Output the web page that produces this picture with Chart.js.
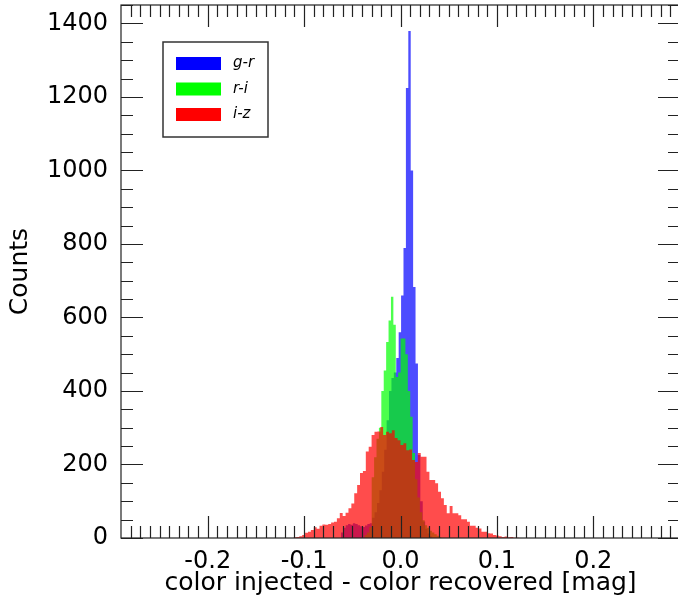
<!DOCTYPE html>
<html>
<head>
<meta charset="utf-8">
<script src="https://cdn.jsdelivr.net/npm/chart.js@4.4.0/dist/chart.umd.min.js"></script>
<style>
  html, body { margin: 0; padding: 0; background: #fff; overflow: hidden; }
</style>
</head>
<body>
<canvas id="hist" width="681" height="603"></canvas>
<script>
// histogram bins: left edge of first bin, bin width, counts per bin
const seriesNames = ['g-r', 'r-i', 'i-z'];
const seriesColors = ['#0000ff', '#00ff00', '#ff0000'];

const grStart = -0.0619;
const grWidth = 0.0025;
const grCounts = [15, 28, 35, 38, 36, 40, 38, 35, 32, 30, 34, 38, 40, 55, 70, 95, 130, 180, 240, 320,
  400, 435, 450, 490, 560, 660, 789, 1224, 1379, 1000, 683, 475, 226, 100, 45, 25, 12, 5];

const riStart = -0.0374;
const riWidth = 0.0025;
const riCounts = [8, 15, 30, 165, 220, 270, 300, 400, 456, 533, 592, 656, 580, 438, 450, 543, 543, 500,
  400, 330, 231, 160, 110, 70, 48, 35, 28, 20, 15, 10, 6, 3];

const izStart = -0.111;
const izWidth = 0.003;
const izCounts = [2, 3, 5, 8, 14, 17, 22, 29, 25, 33, 37, 36, 38, 42, 44, 54, 68, 60, 69, 81,
  94, 122, 144, 177, 182, 235, 248, 280, 289, 290, 302, 280, 289, 285, 293, 272, 266, 253, 258, 239,
  241, 212, 207, 231, 221, 221, 180, 158, 158, 149, 126, 108, 90, 67, 87, 67, 67, 62, 51, 51,
  44, 33, 33, 28, 26, 17, 17, 13, 12, 8, 7, 5, 3, 4, 2, 3, 1, 1];

const xTicks = [-0.2, -0.1, 0.0, 0.1, 0.2];
const yTicks = [0, 200, 400, 600, 800, 1000, 1200, 1400];

// one point per bin edge, stepped so each count holds across its bin
function steps(start, width, counts) {
  const pts = counts.map((c, i) => ({x: start + i * width, y: c}));
  pts.push({x: start + counts.length * width, y: 0});
  return pts;
}

function alpha(hex, a) {
  const n = parseInt(hex.slice(1), 16);
  return `rgba(${(n >> 16) & 255},${(n >> 8) & 255},${n & 255},${a})`;
}

const FONT = "'DejaVu Sans', sans-serif";

// box with inward ticks on all four sides
const frame = {
  id: 'frame',
  afterDatasetsDraw(chart) {
    const {ctx, chartArea: a, scales: {x, y}} = chart;
    ctx.save();
    ctx.strokeStyle = '#222';
    ctx.lineWidth = 1.2;
    ctx.strokeRect(a.left, a.top, a.right - a.left, a.bottom - a.top);
    ctx.beginPath();
    for (let i = -28; i <= 28; i++) {
      const px = Math.round(x.getPixelForValue(i / 100)) + 0.5;
      const len = i % 10 === 0 ? 22 : 12;
      ctx.moveTo(px, a.bottom); ctx.lineTo(px, a.bottom - len);
      ctx.moveTo(px, a.top); ctx.lineTo(px, a.top + len);
    }
    for (let v = 0; v <= y.max; v += 50) {
      const py = Math.round(y.getPixelForValue(v)) + 0.5;
      const len = v % 200 === 0 ? 22 : 12;
      ctx.moveTo(a.left, py); ctx.lineTo(a.left + len, py);
      ctx.moveTo(a.right, py); ctx.lineTo(a.right - len, py);
    }
    ctx.stroke();
    ctx.restore();
  }
};

const keyBox = {
  id: 'keyBox',
  afterDraw(chart) {
    const {ctx, chartArea: a} = chart;
    const bx = a.left + 42, by = a.top + 37, bw = 105, bh = 95;
    ctx.save();
    ctx.fillStyle = '#fff';
    ctx.fillRect(bx, by, bw, bh);
    ctx.strokeStyle = '#333';
    ctx.lineWidth = 1.5;
    ctx.strokeRect(bx, by, bw, bh);
    ctx.font = `italic 15px ${FONT}`;
    ctx.textBaseline = 'middle';
    seriesNames.forEach((name, i) => {
      const cy = by + 21.5 + i * 25.5;
      ctx.fillStyle = seriesColors[i];
      ctx.fillRect(bx + 13, cy - 6.5, 45, 13);
      ctx.fillStyle = '#000';
      ctx.fillText(name, bx + 70, cy);
    });
    ctx.restore();
  }
};

const binned = [[grStart, grWidth, grCounts], [riStart, riWidth, riCounts], [izStart, izWidth, izCounts]];

new Chart(document.getElementById('hist'), {
  type: 'line',
  data: {
    datasets: binned.map(([s, w, c], i) => ({
      label: seriesNames[i],
      data: steps(s, w, c),
      stepped: 'before',
      fill: 'origin',
      backgroundColor: alpha(seriesColors[i], 0.7),
      borderColor: 'rgba(0,0,0,0)',
      borderWidth: 0,
      pointRadius: 0,
      order: 3 - i
    }))
  },
  options: {
    responsive: false,
    animation: false,
    layout: {padding: {top: 5, right: 1, left: 0, bottom: 0}},
    plugins: {legend: {display: false}, tooltip: {enabled: false}},
    scales: {
      x: {
        type: 'linear',
        min: -0.29,
        max: 0.29,
        afterFit: s => { s.height = 65; s.paddingLeft = 0; s.paddingRight = 0; },
        afterBuildTicks: s => { s.ticks = xTicks.map(v => ({value: v})); },
        grid: {display: false, drawTicks: false},
        border: {display: false},
        ticks: {
          padding: 9,
          color: '#000',
          font: {family: FONT, size: 24},
          callback: v => (Math.abs(v) < 1e-9 ? 0 : v).toFixed(1)
        },
        title: {
          display: true,
          text: 'color injected - color recovered [mag]',
          color: '#000',
          font: {family: FONT, size: 25},
          padding: {top: 0, bottom: 5}
        }
      },
      y: {
        min: 0,
        max: 1450,
        afterFit: s => { s.width = 121; s.paddingTop = 0; s.paddingBottom = 0; },
        afterBuildTicks: s => { s.ticks = yTicks.map(v => ({value: v})); },
        grid: {display: false, drawTicks: false},
        border: {display: false},
        ticks: {
          padding: 13,
          color: '#000',
          font: {family: FONT, size: 24},
          callback: v => String(v)
        },
        title: {
          display: true,
          text: 'Counts',
          color: '#000',
          font: {family: FONT, size: 25},
          padding: {top: 5, bottom: 0}
        }
      }
    }
  },
  plugins: [frame, keyBox]
});
</script>
</body>
</html>
